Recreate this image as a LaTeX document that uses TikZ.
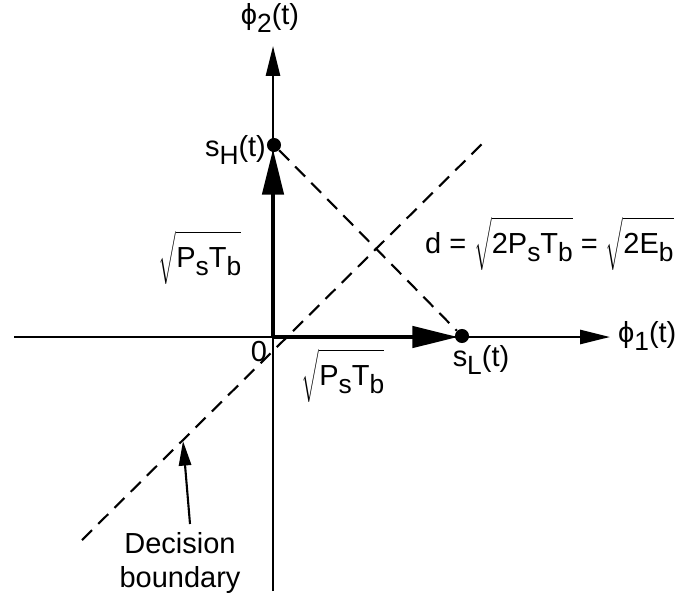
\documentclass[tikz,border=0pt]{standalone}
\usepackage{fontspec}
\setmainfont{Liberation Sans}
\usetikzlibrary{arrows.meta}
\newcommand\lowr[1]{\raisebox{-0.55ex}{\fontsize{15}{16}\selectfont #1}}
\newcommand\rt[1]{$\sqrt{\mbox{\rule[-1.1ex]{0pt}{3.3ex}#1}}$}
\tikzset{
  axisline/.style={line width=1.3pt, draw=black, -{Triangle[length=17pt, width=8pt]}},
  vecline/.style={line width=2.6pt, draw=black, -{Triangle[length=26pt, width=12pt]}},
  bdline/.style={line width=1.2pt, draw=black, dash pattern=on 8pt off 5pt},
  sigdot/.style={circle, fill=black, inner sep=0pt, minimum size=8pt},
  lbl/.style={font=\fontsize{16.5}{19}\selectfont, inner sep=1pt},
}
\begin{document}
\begin{tikzpicture}[x=0.02cm, y=-0.02cm]
\useasboundingbox (0,0) rectangle (688,601);
% axes
\coordinate (O) at (273,337);
\coordinate (xl) at (14,337);
\coordinate (xr) at (610,337);
\coordinate (yb) at (273,591);
\coordinate (yt) at (273,46);
\draw[axisline] (xl) -- (xr);
\draw[axisline] (yb) -- (yt);
% signal points
\node[sigdot] (sH) at (274,145) {};
\node[sigdot] (sL) at (462,336) {};
\draw[vecline] (O) -- (273,149);
\draw[vecline] (O) -- (458,337);
% distance and decision boundary
\draw[bdline] (sH) -- (sL);
\coordinate (bl) at (82,540);
\coordinate (bu) at (486,140);
\draw[bdline] (bl) -- (bu);
% labels
\node[lbl] (phi2) at (270,18) {ϕ\lowr{2}(t)};
\node[lbl, anchor=west] (phi1) at (616,336) {ϕ\lowr{1}(t)};
\node[lbl, anchor=east] (lH) at (268,150) {s\lowr{H}(t)};
\node[lbl] (lL) at (481,360) {s\lowr{L}(t)};
\node[lbl] (zero) at (259,352) {0};
\node[lbl] (rtv) at (200,258) {\rt{P\lowr{s}T\lowr{b}}};
\node[lbl] (rth) at (343,376) {\rt{P\lowr{s}T\lowr{b}}};
\node[lbl, anchor=west] (dist) at (423,244) {d = \rt{2P\lowr{s}T\lowr{b}} = \rt{2E\lowr{b}}};
\node[lbl, align=center] (dec) at (180,563) {Decision\\boundary};
\draw[line width=1.2pt, -{Triangle[length=14pt, width=7pt]}] (190,524) -- (183,441);
\end{tikzpicture}
\end{document}
